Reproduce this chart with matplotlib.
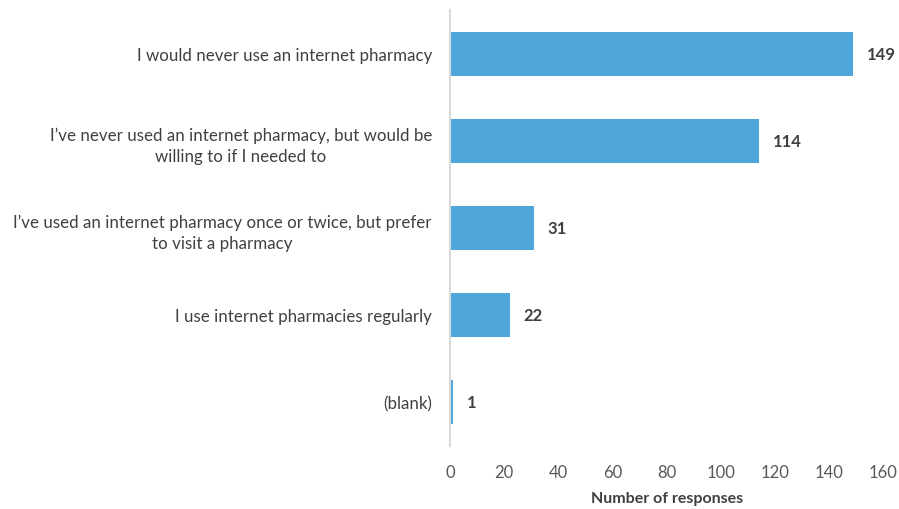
import matplotlib
matplotlib.use("Agg")
import matplotlib.pyplot as plt

categories = [
    "I would never use an internet pharmacy",
    "I\u2019ve never used an internet pharmacy, but would be\nwilling to if I needed to",
    "I\u2019ve used an internet pharmacy once or twice, but prefer\nto visit a pharmacy",
    "I use internet pharmacies regularly",
    "(blank)",
]
responses = [149, 114, 31, 22, 1]
x_ticks = [0, 20, 40, 60, 80, 100, 120, 140, 160]

plt.rcParams["font.family"] = ["Lato", "DejaVu Sans"]

fig = plt.figure(figsize=(8.99, 5.10), dpi=100)
ax = fig.add_axes([0.5006, 0.1245, 0.4817, 0.853])

ypos = list(range(len(categories)))
ax.barh(ypos, responses, height=0.5, color="#4EA6DA")
ax.set_ylim(len(categories) - 0.5, -0.5)
ax.set_xlim(0, 160)

ax.set_yticks(ypos)
ax.set_yticklabels(categories, fontsize=12.2, color="#404040",
                   multialignment="center", linespacing=1.4)
ax.set_xticks(x_ticks)
ax.set_xticklabels([str(t) for t in x_ticks], fontsize=12, color="#595959")
ax.tick_params(axis="both", length=0)
ax.tick_params(axis="y", pad=13)
ax.tick_params(axis="x", pad=13)

for spine in ["top", "right", "bottom"]:
    ax.spines[spine].set_visible(False)
ax.spines["left"].set_color("#D9D9D9")
ax.spines["left"].set_linewidth(1.5)

for y, v in zip(ypos, responses):
    ax.annotate(str(v), xy=(v, y), xytext=(10, 0), textcoords="offset points",
                va="center", ha="left", fontsize=12, fontweight="bold",
                color="#404040")

ax.set_xlabel("Number of responses", fontsize=11.5, fontweight="bold",
              color="#404040", labelpad=8)

fig.savefig("out.png", dpi=100)
